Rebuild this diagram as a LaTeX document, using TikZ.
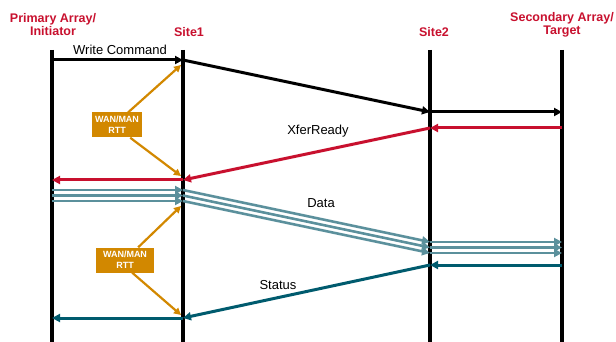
\documentclass[tikz,border=0pt]{standalone}
\usepackage{fontspec}
\setmainfont{Liberation Sans}
\usetikzlibrary{arrows.meta}
\definecolor{cred}{HTML}{C8102E}
\definecolor{cdata}{HTML}{5B909C}
\definecolor{cstat}{HTML}{005B6E}
\definecolor{corange}{HTML}{D28800}
\tikzset{
  title/.style={text=cred,font=\bfseries\fontsize{12.5}{13}\selectfont,align=center,inner sep=0pt},
  lbl/.style={font=\fontsize{13}{14}\selectfont,inner sep=0pt},
  life/.style={line width=4.5pt,black},
  tip/.style={-{Triangle[length=8pt,width=8pt]}},
  msg/.style={line width=3pt},
  dline/.style={line width=2.6pt,cdata},
  rttbox/.style={fill=corange,text=white,font=\bfseries\fontsize{9}{11}\selectfont,align=center,minimum width=50pt,minimum height=25pt,inner sep=1pt},
  rttarrow/.style={line width=2.2pt,corange,-{Triangle[length=7pt,width=7pt]}}
}
\begin{document}
\begin{tikzpicture}[x=1pt,y=-1pt]
\useasboundingbox (0,0) rectangle (616,342);
% lifelines
\coordinate (p0) at (52,50); \coordinate (p1) at (52,342);
\coordinate (s0) at (183,50); \coordinate (s1) at (183,342);
\coordinate (t0) at (430,50); \coordinate (t1) at (430,342);
\coordinate (g0) at (562,50); \coordinate (g1) at (562,342);
\draw[life] (p0) -- (p1);
\draw[life] (s0) -- (s1);
\draw[life] (t0) -- (t1);
\draw[life] (g0) -- (g1);
% titles
\node[title] (tp) at (53,25) {Primary Array/\\Initiator};
\node[title] (ts1) at (189,32) {Site1};
\node[title] (ts2) at (434,32) {Site2};
\node[title] (tg) at (562,25) {Secondary Array/\\Target};
% write command
\coordinate (w0) at (52,60); \coordinate (w1) at (183,60);
\coordinate (w2) at (430,112); \coordinate (w3) at (562,112);
\draw[msg,black,tip] (w0) -- (w1);
\draw[msg,black,tip] (w1) -- (w2);
\draw[msg,black,tip] (w2) -- (w3);
\node[lbl] (lw) at (120,50) {Write Command};
% xferready
\coordinate (x0) at (562,128); \coordinate (x1) at (430,128);
\coordinate (x2) at (183,180); \coordinate (x3) at (52,180);
\draw[msg,cred,tip] (x0) -- (x1);
\draw[msg,cred,tip] (x1) -- (x2);
\draw[msg,cred,tip] (x2) -- (x3);
\node[lbl] (lx) at (318,131) {XferReady};
% data
\foreach \i/\dy in {a/0,b/5.5,c/11}{
  \coordinate (d0\i) at (52,190+\dy);
  \coordinate (d1\i) at (183,190+\dy);
  \coordinate (d2\i) at (430,242+\dy);
  \coordinate (d3\i) at (562,242+\dy);
  \draw[dline,tip] (d0\i) -- (d1\i);
  \draw[dline,tip] (d1\i) -- (d2\i);
  \draw[dline,tip] (d2\i) -- (d3\i);
}
\node[lbl] (ld) at (321,203) {Data};
% status
\coordinate (st0) at (562,265); \coordinate (st1) at (430,265);
\coordinate (st2) at (183,318); \coordinate (st3) at (52,318);
\draw[msg,cstat,tip] (st0) -- (st1);
\draw[msg,cstat,tip] (st1) -- (st2);
\draw[msg,cstat,tip] (st2) -- (st3);
\node[lbl] (ls) at (278,285) {Status};
% RTT boxes
\node[rttbox] (r1) at (117,125) {WAN/MAN\\RTT};
\coordinate (r1a) at (181,65); \coordinate (r1b) at (181,176);
\draw[rttarrow] (r1.north east) ++(-14,0) coordinate (r1s) -- (r1a);
\draw[rttarrow] (r1.south east) ++(-12,0) coordinate (r1t) -- (r1b);
\node[rttbox,minimum width=58pt] (r2) at (125,260) {WAN/MAN\\RTT};
\coordinate (r2a) at (181,206); \coordinate (r2b) at (181,315);
\draw[rttarrow] (r2.north east) ++(-16,0) -- (r2a);
\draw[rttarrow] (r2.south east) ++(-22,0) -- (r2b);
\end{tikzpicture}
\end{document}
